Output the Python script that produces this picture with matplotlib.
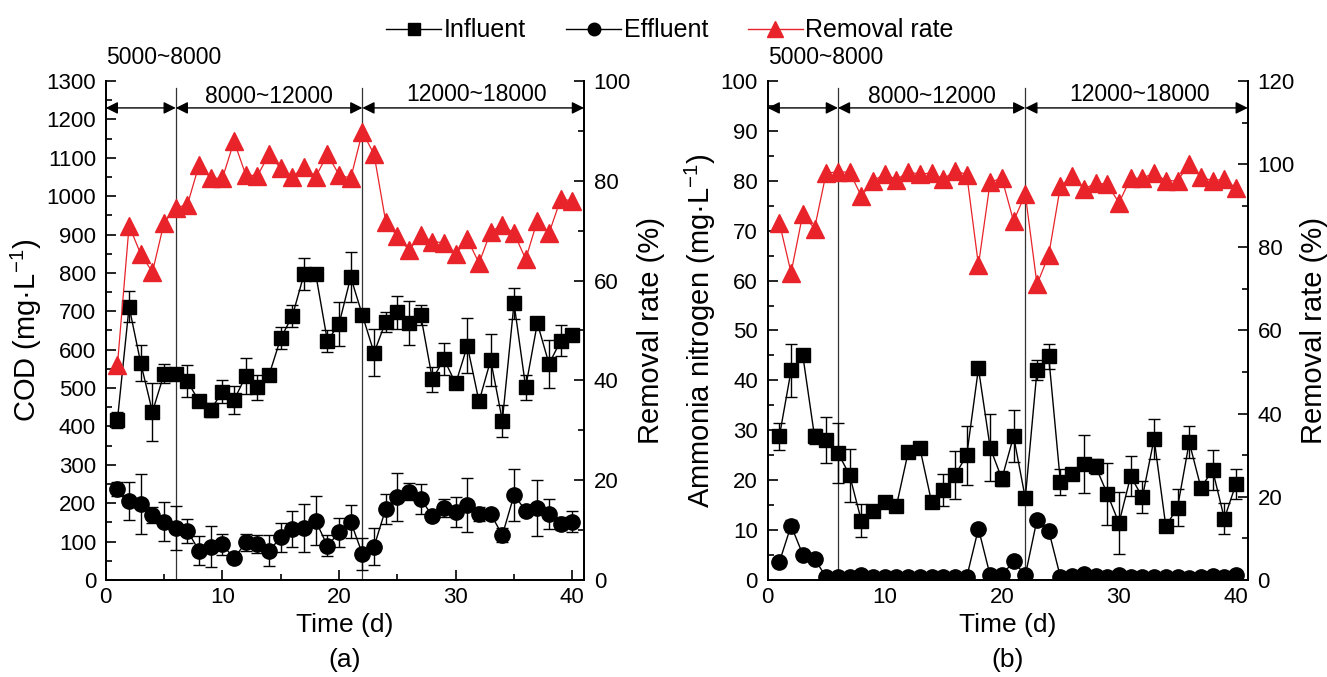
import matplotlib
matplotlib.use("Agg")
import matplotlib.pyplot as plt
from matplotlib.lines import Line2D
from matplotlib.ticker import MultipleLocator
import matplotlib.transforms as mtransforms

plt.rcParams['font.family'] = ['Liberation Sans', 'DejaVu Sans']
plt.rcParams['mathtext.fontset'] = 'custom'
plt.rcParams['mathtext.rm'] = 'Liberation Sans'
plt.rcParams['mathtext.it'] = 'Liberation Sans:italic'

days = list(range(1, 41))

# panel (a): COD
cod_in = [417, 712, 565, 438, 537, 537, 518, 465, 443, 491,
          469, 531, 502, 534, 630, 688, 797, 797, 623, 667,
          789, 690, 592, 673, 697, 670, 690, 523, 575, 512,
          610, 465, 573, 415, 721, 502, 669, 563, 623, 638]
cod_in_err = [20, 40, 47, 75, 25, 5, 42, 15, 18, 29,
              37, 47, 33, 10, 28, 28, 42, 5, 28, 58,
              66, 15, 61, 26, 43, 58, 27, 33, 42, 10,
              72, 5, 68, 42, 40, 33, 12, 62, 40, 10]
cod_out = [236, 206, 198, 169, 152, 135, 128, 76, 87, 93,
           56, 98, 93, 76, 111, 133, 135, 154, 89, 124,
           152, 68, 87, 185, 217, 230, 211, 167, 187, 178,
           195, 172, 172, 117, 221, 181, 187, 172, 146, 152]
cod_out_err = [18, 49, 77, 20, 50, 57, 31, 38, 54, 28,
               10, 22, 23, 40, 38, 46, 62, 64, 27, 38,
               43, 41, 49, 38, 63, 22, 39, 10, 23, 39,
               70, 18, 5, 18, 68, 5, 73, 38, 17, 28]
cod_rate = [43.1, 71.0, 65.3, 61.7, 71.6, 74.6, 75.2, 83.2, 80.5, 80.5,
            87.9, 81.2, 81.0, 85.3, 82.5, 80.8, 82.8, 80.8, 85.3, 81.2,
            80.5, 89.8, 85.3, 71.8, 68.9, 66.1, 69.1, 67.8, 67.6, 65.3,
            68.3, 63.5, 69.8, 71.1, 69.5, 64.3, 72.0, 69.5, 76.3, 76.0]

# panel (b): ammonia nitrogen
nh_in = [28.8, 42.0, 45.0, 28.8, 28.1, 25.5, 21.0, 11.9, 13.8, 15.7,
         14.9, 25.6, 26.4, 15.6, 18.0, 21.0, 25.0, 42.4, 26.5, 20.3,
         28.8, 16.4, 42.0, 44.8, 19.6, 21.3, 23.2, 22.8, 17.3, 11.4,
         20.8, 16.6, 28.3, 10.8, 14.5, 27.6, 18.5, 22.0, 12.3, 19.3]
nh_in_err = [2.7, 5.3, 1.0, 1.5, 4.6, 6.0, 5.3, 3.3, 1.0, 1.0,
             1.0, 1.0, 1.0, 1.0, 3.2, 4.8, 5.9, 1.0, 6.7, 1.5,
             5.2, 1.0, 2.0, 2.5, 2.6, 1.0, 5.8, 1.5, 6.2, 6.2,
             4.0, 3.2, 4.0, 0.5, 3.7, 3.2, 1.0, 4.0, 3.1, 3.0]
nh_out = [3.6, 10.9, 5.1, 4.3, 0.5, 0.5, 0.5, 0.9, 0.6, 0.5,
          0.6, 0.5, 0.6, 0.5, 0.6, 0.5, 0.6, 10.3, 0.9, 0.9,
          3.8, 0.9, 12.1, 9.9, 0.6, 0.8, 1.2, 0.8, 0.6, 0.9,
          0.6, 0.5, 0.5, 0.5, 0.5, 0.4, 0.6, 0.8, 0.6, 1.0]
nh_out_err = [0.3, 1.2, 0.3, 0.3, 0.2, 0.2, 0.2, 0.3, 0.2, 0.2,
              0.2, 0.2, 0.2, 0.2, 0.2, 0.2, 0.2, 0.3, 0.2, 0.2,
              0.3, 0.2, 0.3, 0.3, 0.2, 0.3, 0.8, 0.3, 0.2, 0.3,
              0.2, 0.2, 0.2, 0.2, 0.2, 0.2, 0.2, 0.3, 0.2, 0.3]
nh_rate = [85.9, 73.9, 88.0, 84.5, 97.9, 98.1, 98.1, 92.3, 96.0, 97.6,
           96.3, 98.1, 97.6, 97.9, 96.4, 98.4, 97.5, 75.7, 95.7, 96.6,
           86.3, 92.8, 71.1, 78.1, 94.7, 97.1, 94.0, 95.4, 95.2, 90.7,
           96.6, 96.6, 97.9, 96.0, 96.0, 100.0, 96.9, 96.0, 96.4, 94.2]

stage_days = [0, 6, 22, 41]
stage_labels = ["5000~8000", "8000~12000", "12000~18000"]

red = "#e8232a"
fs_tick = 16
fs_ylab = 21
fs_xlab = 19
fs_stage = 16.5

fig = plt.figure(figsize=(13.27, 6.77), dpi=100)


def style_axis(ax):
    ax.tick_params(direction='in', which='both', labelsize=fs_tick, width=1.2, pad=7)
    ax.tick_params(which='major', length=7)
    ax.tick_params(which='minor', length=4)
    for s in ax.spines.values():
        s.set_linewidth(1.3)
    ax.spines['top'].set_visible(False)


def panel(rect, y_in, e_in, y_out, e_out, rate, ylim, ymaj, ymin_, rlim, ylab, tag):
    ax = fig.add_axes(rect)
    ax.errorbar(days, y_in, yerr=e_in, fmt='s-', color='black', ms=10.5, lw=1,
                elinewidth=1, capsize=4, capthick=1, zorder=3)
    ax.errorbar(days, y_out, yerr=e_out, fmt='o-', color='black', ms=11, lw=1,
                elinewidth=1, capsize=4, capthick=1, zorder=3)
    ax.set_xlim(0, 41)
    ax.set_ylim(*ylim)
    ax.xaxis.set_major_locator(MultipleLocator(10))
    ax.xaxis.set_minor_locator(MultipleLocator(5))
    ax.yaxis.set_major_locator(MultipleLocator(ymaj))
    ax.yaxis.set_minor_locator(MultipleLocator(ymin_))
    style_axis(ax)
    ax.tick_params(axis='x', pad=5)
    ax.set_xlabel("Time (d)", fontsize=fs_xlab, labelpad=4)
    ax.set_ylabel(ylab, fontsize=fs_ylab, labelpad=2)

    ax2 = ax.twinx()
    ax2.plot(days, rate, '-', color=red, lw=0.9, marker='^', ms=12.5,
             mfc=red, mec=red, zorder=4)
    ax2.set_ylim(*rlim)
    ax2.yaxis.set_major_locator(MultipleLocator(20))
    ax2.yaxis.set_minor_locator(MultipleLocator(10))
    style_axis(ax2)
    ax2.set_ylabel("Removal rate (%)", fontsize=fs_ylab, labelpad=4)

    trans = mtransforms.blended_transform_factory(ax.transData, ax.transAxes)
    for d in stage_days[1:3]:
        ax.plot([d, d], [0, 0.986], color='#333333', lw=0.9, transform=trans, zorder=2)
    for i in range(3):
        ax.annotate("", xy=(stage_days[i], 0.946), xytext=(stage_days[i + 1], 0.946),
                    xycoords=trans, textcoords=trans,
                    arrowprops=dict(arrowstyle='<|-|>', color='black', lw=1,
                                    mutation_scale=18, shrinkA=0, shrinkB=0))
    ax.text(0, 1.048, stage_labels[0], transform=ax.transAxes, fontsize=fs_stage,
            ha='left', va='center')
    ax.text(14, 0.968, stage_labels[1], transform=trans, fontsize=fs_stage,
            ha='center', va='center')
    ax.text(31.8, 0.972, stage_labels[2], transform=trans, fontsize=fs_stage,
            ha='center', va='center')
    fig.text(rect[0] + rect[2] / 2, 0.025, tag, fontsize=fs_xlab, ha='center', va='center')
    return ax


ax_a = panel([0.0797, 0.1433, 0.3604, 0.7371], cod_in, cod_in_err, cod_out, cod_out_err,
             cod_rate, (0, 1300), 100, 50, (0, 100), "COD (mg·L$^{-1}$)", "(a)")
ax_b = panel([0.5785, 0.1433, 0.3618, 0.7371], nh_in, nh_in_err, nh_out, nh_out_err,
             nh_rate, (0, 100), 10, 5, (0, 120), "Ammonia nitrogen (mg·L$^{-1}$)", "(b)")

handles = [
    Line2D([], [], color='black', lw=1, marker='s', ms=9),
    Line2D([], [], color='black', lw=1, marker='o', ms=9),
    Line2D([], [], color=red, lw=1, marker='^', ms=11),
]
fig.legend(handles, ["Influent", "Effluent", "Removal rate"], loc='center',
           bbox_to_anchor=(0.505, 0.955), ncol=3, frameon=False, fontsize=18,
           handlelength=2.2, handletextpad=0.1, columnspacing=1.6)

fig.savefig("out.png", dpi=100)
